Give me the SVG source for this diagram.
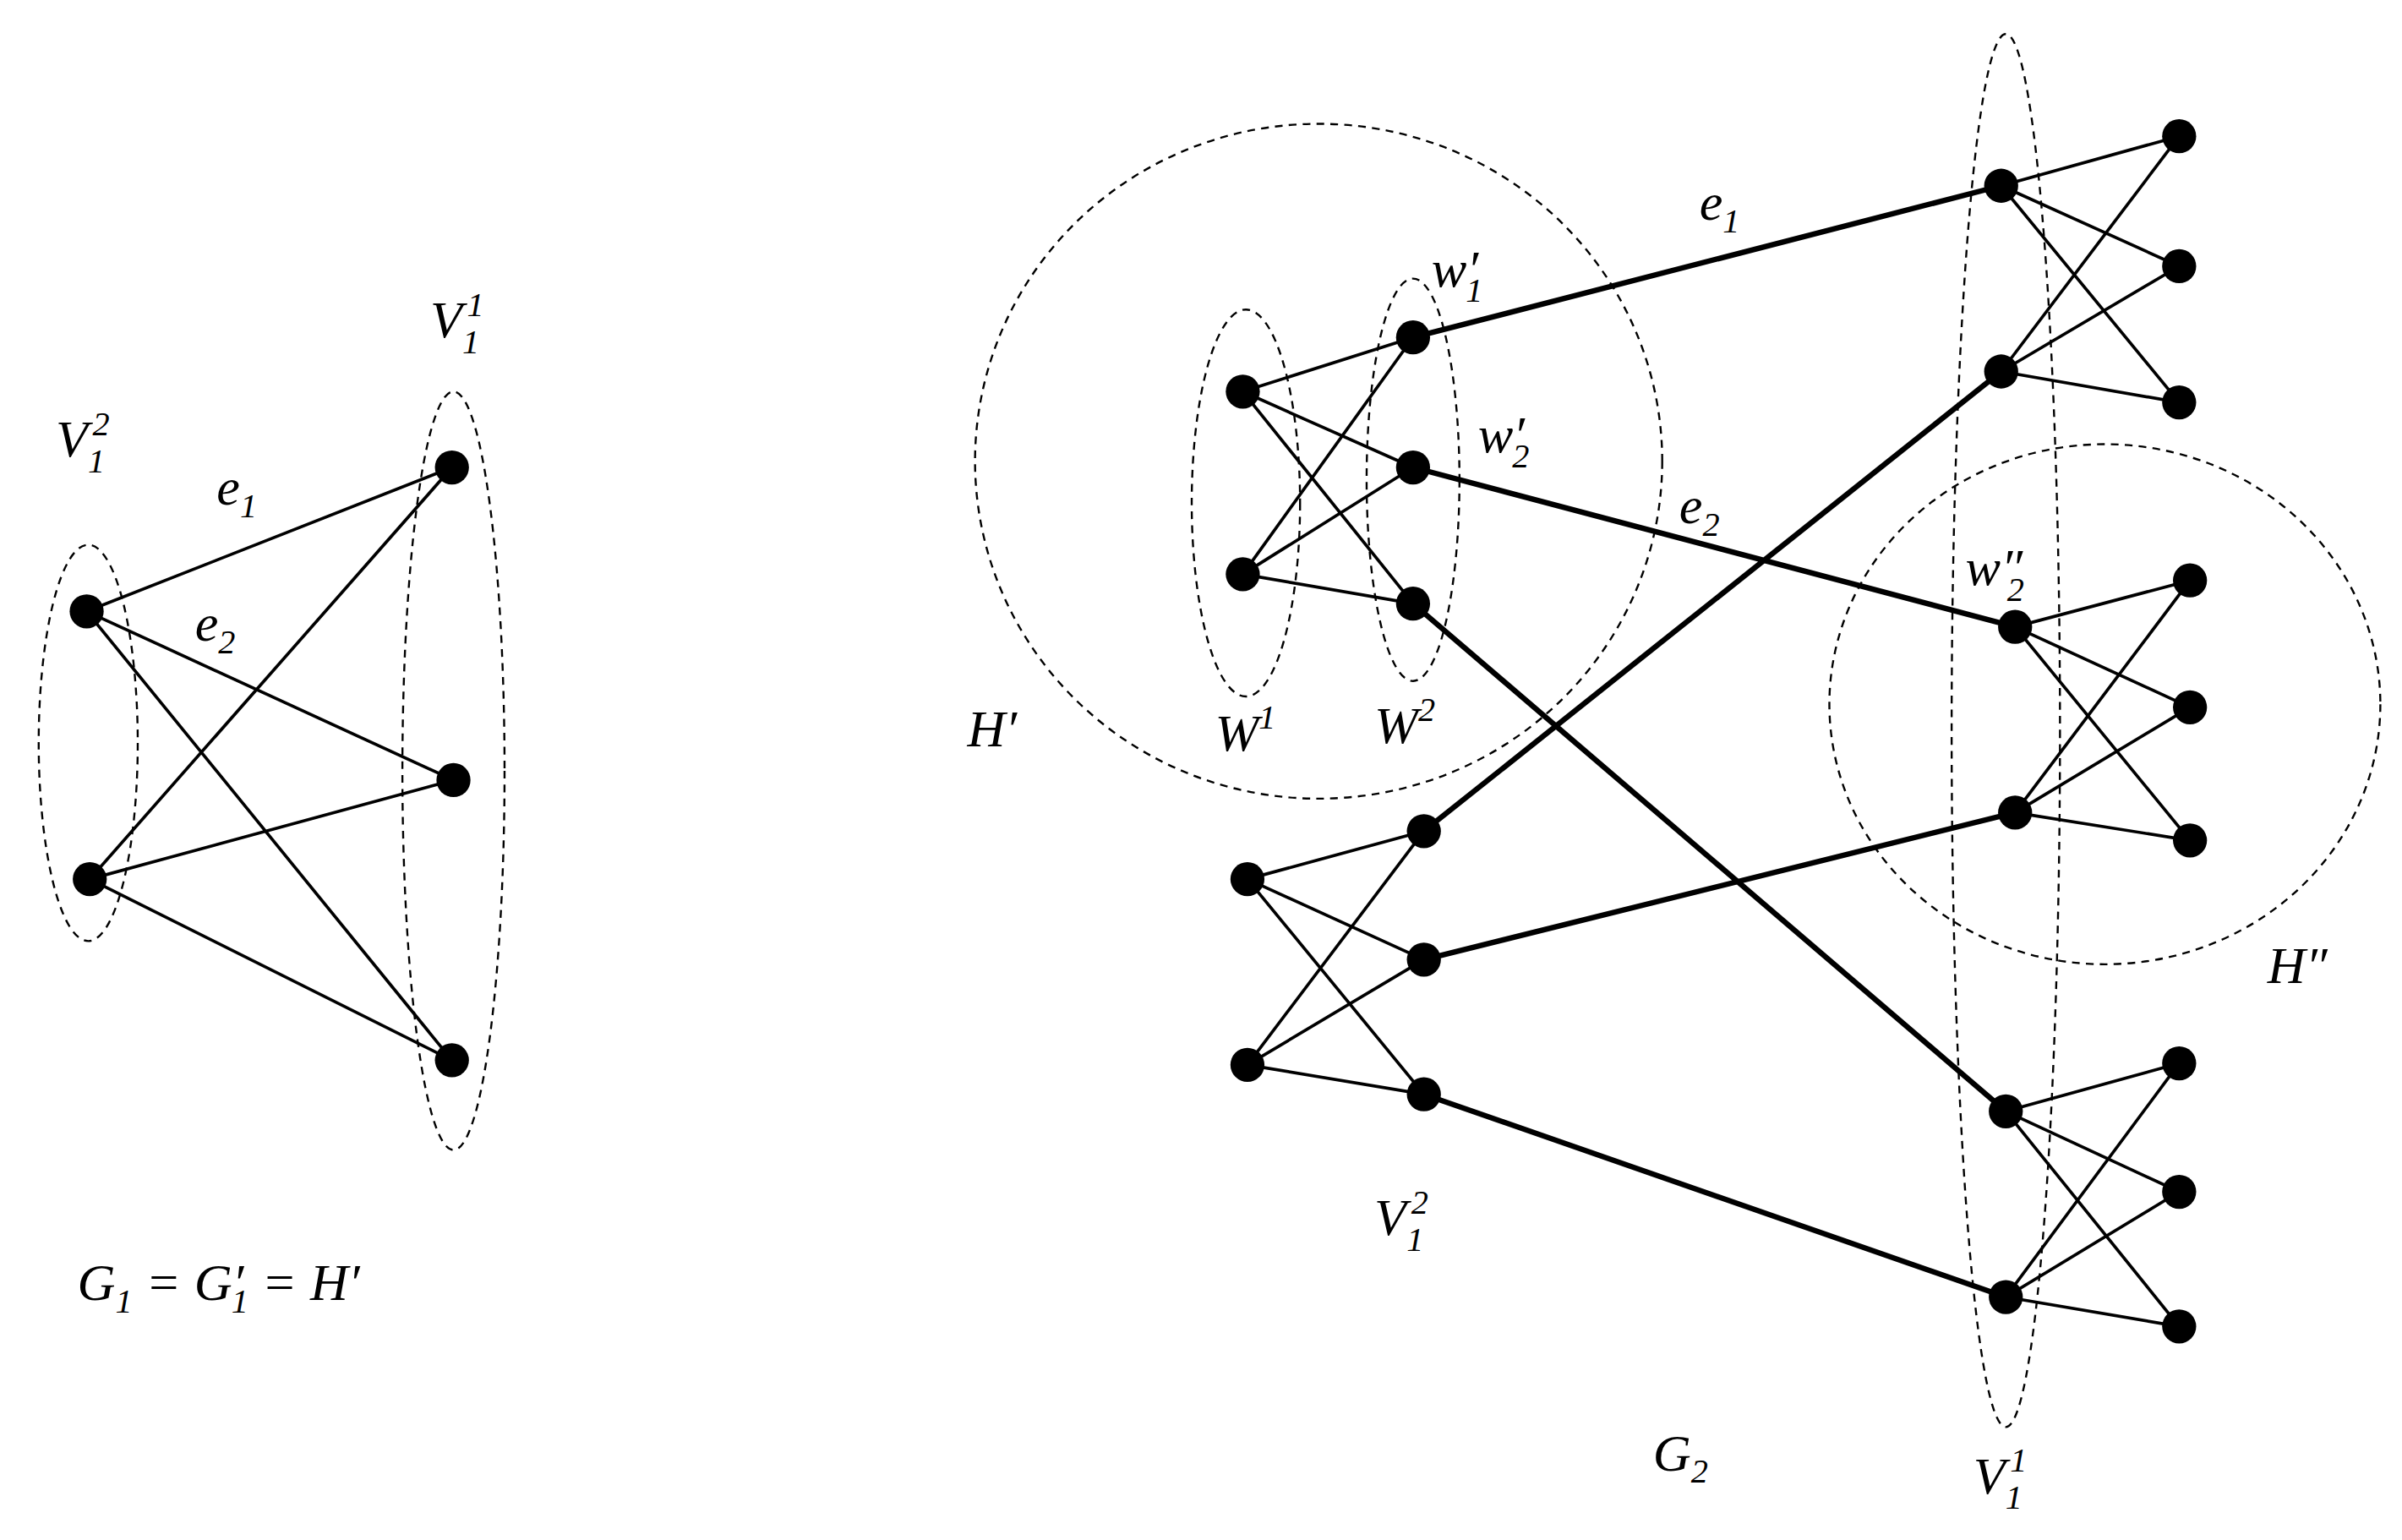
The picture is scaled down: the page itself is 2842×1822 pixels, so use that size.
<svg xmlns="http://www.w3.org/2000/svg" width="2842" height="1822" viewBox="0 0 2842 1822">
<style>
.e{stroke:#000;stroke-width:2;fill:none}
.t{stroke:#000;stroke-width:3.5;fill:none}
.d{stroke:#000;stroke-width:1.3;stroke-dasharray:5 4;fill:none}
.n{fill:#000}
text{font-family:"Liberation Serif",serif;font-style:italic;font-size:34px;fill:#000}
.s{font-size:22px}
</style>
<rect width="2842" height="1822" fill="#fff"/>
<g transform="scale(1.8312)">
<g id="groups">
<ellipse class="d" cx="57" cy="480" rx="32" ry="128"/>
<ellipse class="d" cx="293" cy="498" rx="33" ry="245"/>
<ellipse class="d" cx="852" cy="298" rx="222" ry="218"/>
<ellipse class="d" cx="805" cy="325" rx="35" ry="125"/>
<ellipse class="d" cx="913" cy="310" rx="30" ry="130"/>
<ellipse class="d" cx="1360" cy="455" rx="178" ry="168"/>
<ellipse class="d" cx="1296" cy="472" rx="35" ry="450"/>
</g>
<g id="connectors">
<path class="e" d="M56 395L292 302M56 395L293 504M56 395L292 685M58 568L292 302M58 568L293 504M58 568L292 685"/>
<path class="e" d="M803 253L913 218M803 253L913 302M803 253L913 390M803 371L913 218M803 371L913 302M803 371L913 390"/>
<path class="e" d="M1293 120L1408 88M1293 120L1408 172M1293 120L1408 260M1293 240L1408 88M1293 240L1408 172M1293 240L1408 260"/>
<path class="e" d="M1302 405L1415 375M1302 405L1415 457M1302 405L1415 543M1302 525L1415 375M1302 525L1415 457M1302 525L1415 543"/>
<path class="e" d="M1296 718L1408 687M1296 718L1408 770M1296 718L1408 857M1296 838L1408 687M1296 838L1408 770M1296 838L1408 857"/>
<path class="e" d="M806 568L920 537M806 568L920 620M806 568L920 707M806 688L920 537M806 688L920 620M806 688L920 707"/>
<path class="t" d="M913 218L1293 120M913 302L1302 405M913 390L1296 718M920 537L1293 240M920 620L1302 525M920 707L1296 838"/>
</g>
<g id="nodes" class="n">
<circle cx="56" cy="395" r="11"/><circle cx="58" cy="568" r="11"/>
<circle cx="292" cy="302" r="11"/><circle cx="293" cy="504" r="11"/><circle cx="292" cy="685" r="11"/>
<circle cx="803" cy="253" r="11"/><circle cx="803" cy="371" r="11"/>
<circle cx="913" cy="218" r="11"/><circle cx="913" cy="302" r="11"/><circle cx="913" cy="390" r="11"/>
<circle cx="1293" cy="120" r="11"/><circle cx="1293" cy="240" r="11"/>
<circle cx="1408" cy="88" r="11"/><circle cx="1408" cy="172" r="11"/><circle cx="1408" cy="260" r="11"/>
<circle cx="1302" cy="405" r="11"/><circle cx="1302" cy="525" r="11"/>
<circle cx="1415" cy="375" r="11"/><circle cx="1415" cy="457" r="11"/><circle cx="1415" cy="543" r="11"/>
<circle cx="1296" cy="718" r="11"/><circle cx="1296" cy="838" r="11"/>
<circle cx="1408" cy="687" r="11"/><circle cx="1408" cy="770" r="11"/><circle cx="1408" cy="857" r="11"/>
<circle cx="806" cy="568" r="11"/><circle cx="806" cy="688" r="11"/>
<circle cx="920" cy="537" r="11"/><circle cx="920" cy="620" r="11"/><circle cx="920" cy="707" r="11"/>
</g>
<g id="labels">
<text x="36" y="295">V<tspan class="s" dy="10">1</tspan><tspan class="s" dx="-8" dy="-24">2</tspan></text>
<text x="278" y="218">V<tspan class="s" dy="10">1</tspan><tspan class="s" dx="-8" dy="-24">1</tspan></text>
<text x="140" y="326">e<tspan class="s" dy="8">1</tspan></text>
<text x="126" y="414">e<tspan class="s" dy="8">2</tspan></text>
<text x="50" y="840">G<tspan class="s" dy="8">1</tspan><tspan dy="-8"> = G′</tspan><tspan class="s" dx="-8" dy="8">1</tspan><tspan dy="-8"> = H′</tspan></text>
<text x="1098" y="142">e<tspan class="s" dy="8">1</tspan></text>
<text x="1085" y="338">e<tspan class="s" dy="8">2</tspan></text>
<text x="925" y="185">w′<tspan class="s" dx="-8" dy="10">1</tspan></text>
<text x="955" y="292">w′<tspan class="s" dx="-8" dy="10">2</tspan></text>
<text x="1270" y="378">w″<tspan class="s" dx="-10" dy="10">2</tspan></text>
<text x="785" y="485">W<tspan class="s" dy="-14">1</tspan></text>
<text x="888" y="480">W<tspan class="s" dy="-14">2</tspan></text>
<text x="625" y="482">H′</text>
<text x="1465" y="635">H″</text>
<text x="888" y="798">V<tspan class="s" dy="10">1</tspan><tspan class="s" dx="-8" dy="-24">2</tspan></text>
<text x="1275" y="965">V<tspan class="s" dy="10">1</tspan><tspan class="s" dx="-8" dy="-24">1</tspan></text>
<text x="1068" y="950">G<tspan class="s" dy="8">2</tspan></text>
</g>
</g>
</svg>
